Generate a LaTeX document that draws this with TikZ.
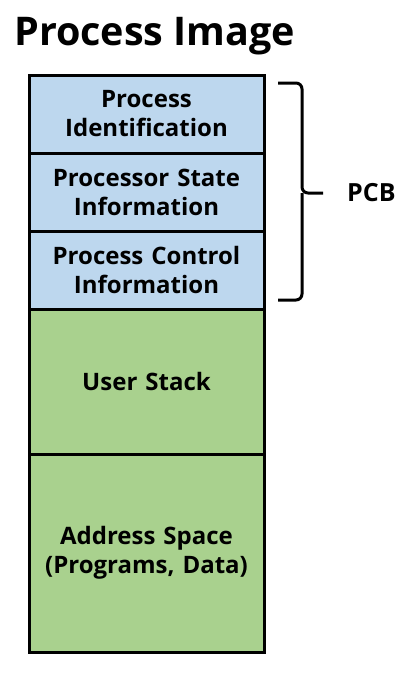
\documentclass[tikz,border=0pt]{standalone}
\usepackage{fontspec}
\setmainfont{Open Sans}
\usepackage{tikz}
\usetikzlibrary{positioning}
\definecolor{pcbblue}{RGB}{189,215,238}
\definecolor{memgreen}{RGB}{169,209,142}

\begin{document}
\begin{tikzpicture}[
    x=1pt, y=-1pt,
    node distance=0pt,
    part/.style={rectangle, draw, line width=3pt, minimum width=235pt,
        text width=225pt, align=center, inner sep=0pt, outer sep=0pt,
        font=\bfseries\fontsize{24}{29}\selectfont},
    ctl/.style={part, fill=pcbblue, minimum height=78pt},
    mem/.style={part, fill=memgreen},
    brc/.style={line width=3pt, rounded corners=6pt}
]
    \useasboundingbox (0,0) rectangle (413,675);
    \node[anchor=base west, inner sep=0pt,
        font=\bfseries\fontsize{39.5}{48}\selectfont] (title) at (14,45) {Process Image};

    % process control block
    \node[ctl, anchor=north west] (pid) at (29,75) {Process\\Identification};
    \node[ctl, below=of pid] (pstate) {Processor State\\Information};
    \node[ctl, below=of pstate] (pctrl) {Process Control\\Information};

    % memory parts
    \node[mem, below=of pctrl, minimum height=145pt] (ustack) {User Stack};
    \node[mem, below=of ustack, minimum height=198pt] (aspace) {Address Space\\(Programs, Data)};

    % brace for the PCB
    \coordinate (btop) at (278,83);
    \coordinate (bbot) at (278,300);
    \coordinate (bmid) at (302,193);
    \coordinate (btip) at (323,193);
    \draw[brc] (btop) -| (bmid) -- (btip);
    \draw[brc] (bbot) -| (bmid);
    \node[anchor=west, inner sep=0pt, font=\bfseries\fontsize{25}{29}\selectfont] (pcb) at (347,193) {PCB};
\end{tikzpicture}
\end{document}
